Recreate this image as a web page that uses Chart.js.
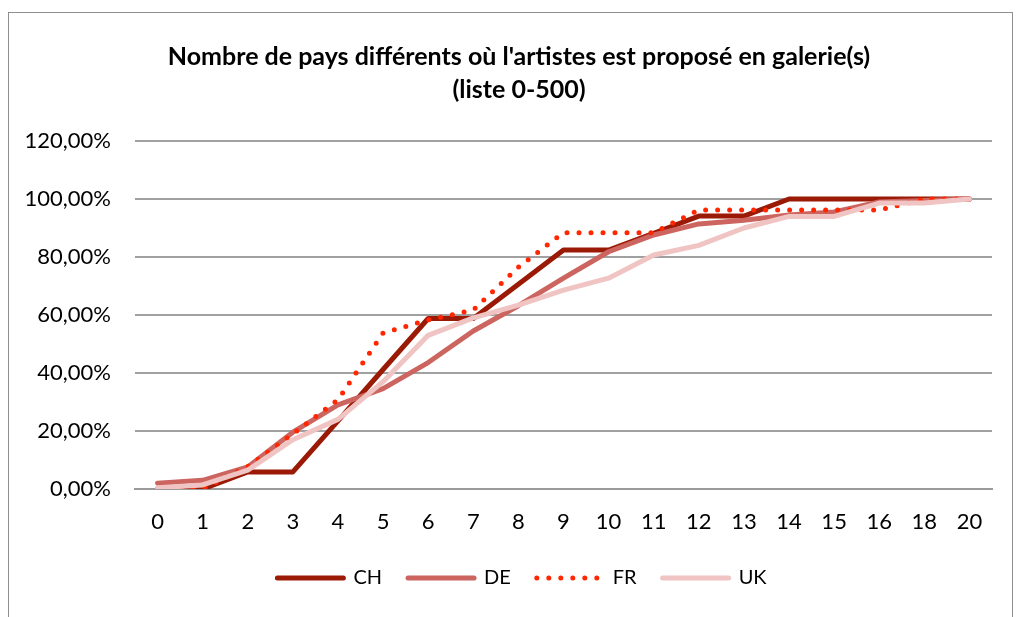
<!DOCTYPE html>
<html><head><meta charset="utf-8">
<script src="https://cdn.jsdelivr.net/npm/chart.js@4.4.1/dist/chart.umd.min.js"></script>
<style>
html,body{margin:0;padding:0;background:#fff;overflow:hidden}
#wrap{position:relative;width:1019px;height:617px}
#frame{position:absolute;left:8px;top:12px;width:1005px;height:640px;border:1.5px solid #8e8e8e;box-sizing:border-box}
canvas{position:absolute;left:0;top:0}
</style></head><body>
<div id="wrap"><div id="frame"></div><canvas id="c" width="1019" height="617"></canvas></div>
<script>
const titleLines = ["Nombre de pays différents où l'artistes est proposé en galerie(s)", "(liste 0-500)"];
const categories = ['0','1','2','3','4','5','6','7','8','9','10','11','12','13','14','15','16','18','20'];
const seriesNames = ['CH','DE','FR','UK'];
const CH = [0, 0, 5.9, 5.9, 23.5, 41.2, 58.8, 58.8, 70.6, 82.4, 82.4, 88.2, 94.1, 94.1, 100, 100, 100, 100, 100];
const DE = [2.0, 3.0, 7.6, 19.6, 29.0, 34.6, 43.6, 54.5, 63.2, 72.7, 81.8, 87.6, 91.4, 92.7, 94.5, 95.5, 99.0, 99.5, 100];
const FR = [0, 0, 7.7, 19.0, 30.8, 53.8, 58.3, 61.7, 76.5, 88.4, 88.4, 88.4, 96.2, 96.2, 96.2, 96.2, 96.2, 100, 100];
const UK = [0.4, 1.4, 6.5, 17.0, 24.0, 37.0, 53.0, 59.0, 63.4, 68.6, 72.7, 80.7, 84.0, 90.0, 94.0, 94.0, 98.6, 98.6, 100];
const yTickLabels = ['0,00%', '20,00%', '40,00%', '60,00%', '80,00%', '100,00%', '120,00%'];

const colors = {CH:'#9b1a05', DE:'#cc6560', FR:'#ff2600', UK:'#efc4c2'};
const FONT = 'Lato, "Open Sans", sans-serif';

const PLOT = {left:135, right:992, top:141, bottom:489};
const PAD = {left: 0, right: 1019 - PLOT.right, bottom: 19};

function ds(name, data, order, extra) {
  return Object.assign({
    label: name, data: data, borderColor: colors[name], backgroundColor: colors[name],
    borderWidth: 5, pointRadius: 0, pointHoverRadius: 0, tension: 0, fill: false,
    borderCapStyle: 'round', borderJoinStyle: 'round', order: order
  }, extra || {});
}

const chart = new Chart(document.getElementById('c'), {
  type: 'line',
  data: {
    labels: categories,
    datasets: [
      ds('CH', CH, 3),
      ds('DE', DE, 2),
      ds('FR', FR, 1, {borderDash:[0, 12]}),
      ds('UK', UK, 0)
    ]
  },
  options: {
    responsive: false, animation: false, devicePixelRatio: 1,
    layout: {padding: {left: PAD.left, right: PAD.right, top: 0, bottom: PAD.bottom}},
    plugins: {
      tooltip: {enabled: false},
      title: {
        display: true, text: titleLines, color: '#000',
        font: {family: FONT, size: 25, weight: 'bold', lineHeight: 1.32},
        padding: {top: 40, bottom: 35}
      },
      legend: {
        position: 'bottom',
        labels: {
          usePointStyle: true, pointStyle: 'line', pointStyleWidth: 66,
          color: '#000', font: {family: FONT, size: 20}, padding: 26,
          sort: (a, b) => a.datasetIndex - b.datasetIndex,
          generateLabels: (c) => {
            const items = Chart.defaults.plugins.legend.labels.generateLabels(c);
            items.forEach(it => {
              const d = c.data.datasets[it.datasetIndex];
              it.lineDash = d.borderDash || [];
              it.lineCap = 'round';
              it.lineWidth = d.borderWidth;
              it.strokeStyle = d.borderColor;
            });
            return items;
          }
        }
      }
    },
    scales: {
      x: {
        type: 'category', offset: true,
        grid: {display: false, drawTicks: false},
        border: {display: true, color: '#9a9a9a', width: 2},
        ticks: {color: '#000', font: {family: FONT, size: 22}, padding: 20, maxRotation: 0, autoSkip: false},
        afterFit: (s) => { s.height = (s.chart.height - PAD.bottom - s.chart.legend.height) - PLOT.bottom; }
      },
      y: {
        type: 'linear', min: 0, max: 120,
        grid: {color: '#a0a0a0', lineWidth: 2, drawTicks: false},
        border: {display: false},
        ticks: {color: '#000', font: {family: FONT, size: 22}, padding: 24, stepSize: 20,
          callback: (v) => yTickLabels[Math.round(Number(v) / 20)]},
        afterFit: (s) => { s.width = PLOT.left - PAD.left; }
      }
    }
  },
  plugins: [{
    id: 'centerBoxes',
    afterLayout: (c) => {
      if (c.legend) c.legend.left = 52;
      if (c.titleBlock) c.titleBlock.left = 46;
    }
  }]
});
</script>
</body></html>
